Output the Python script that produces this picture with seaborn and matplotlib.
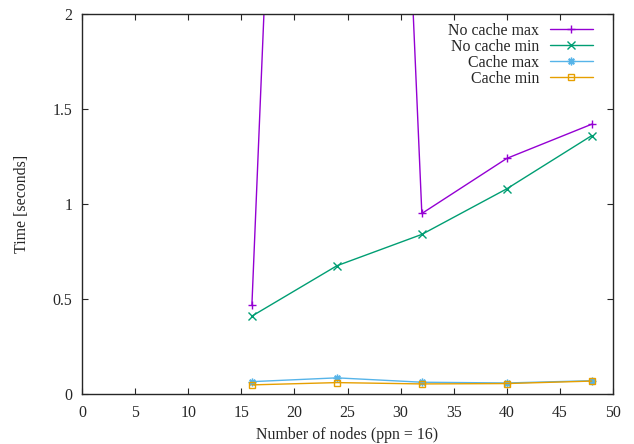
import numpy as np
import pandas as pd
import seaborn as sns
import matplotlib
matplotlib.use('Agg')
import matplotlib.pyplot as plt

nodes = [16, 24, 32, 40, 48]
nocache_max = [0.47, 11.3, 0.95, 1.24, 1.42]
nocache_min = [0.41, 0.675, 0.84, 1.08, 1.36]
cache_max = [0.065, 0.085, 0.062, 0.058, 0.07]
cache_min = [0.048, 0.06, 0.053, 0.055, 0.068]

labels = ['No cache max', 'No cache min', 'Cache max', 'Cache min']
series = [nocache_max, nocache_min, cache_max, cache_min]
colors = ['#9400d3', '#009e73', '#56b4e9', '#e69f00']
# gnuplot point types: plus, cross, asterisk, open square
markers = ['+', 'x', (8, 2, 0), 's']

df = pd.DataFrame({
    'nodes': nodes * len(labels),
    'time': [v for s in series for v in s],
    'series': [l for l in labels for _ in nodes],
})

sns.set_style('ticks')
plt.rcParams['font.family'] = ['Liberation Serif', 'DejaVu Serif']
fs = 11.4

fig = plt.figure(figsize=(6.34, 4.44), dpi=100)
ax = fig.add_axes([82 / 634, 1 - 394 / 444, (613 - 82) / 634, (394 - 14) / 444])

for lab, col, mk in zip(labels, colors, markers):
    sub = df[df['series'] == lab]
    sns.lineplot(data=sub, x='nodes', y='time', ax=ax, color=col, marker=mk,
                 markersize=5.5 if mk != 's' else 5,
                 markerfacecolor='none' if mk == 's' else col,
                 markeredgecolor=col, markeredgewidth=1, linewidth=1,
                 label=lab)

ax.set_xlim(0, 50)
ax.set_ylim(0, 2)
ax.set_xticks(range(0, 51, 5))
ax.set_yticks([0, 0.5, 1, 1.5, 2])
ax.set_yticklabels(['0', '0.5', '1', '1.5', '2'])
ax.tick_params(direction='in', top=True, right=True, length=4, width=0.8,
               labelsize=fs)
ax.tick_params(axis='x', pad=8)
ax.tick_params(axis='y', pad=7)
for sp in ax.spines.values():
    sp.set_linewidth(1)
ax.set_xlabel('Number of nodes (ppn = 16)', fontsize=fs, labelpad=4)
ax.set_ylabel('Time [seconds]', fontsize=fs, labelpad=16)

ax.legend(loc='upper right', bbox_to_anchor=(1 - 11 / 531, 1 + 1 / 380),
          frameon=False, markerfirst=False, fontsize=fs, handlelength=2.7,
          labelspacing=0.01, borderaxespad=0.2, handletextpad=0.65)

fig.savefig('out.png', dpi=100)
